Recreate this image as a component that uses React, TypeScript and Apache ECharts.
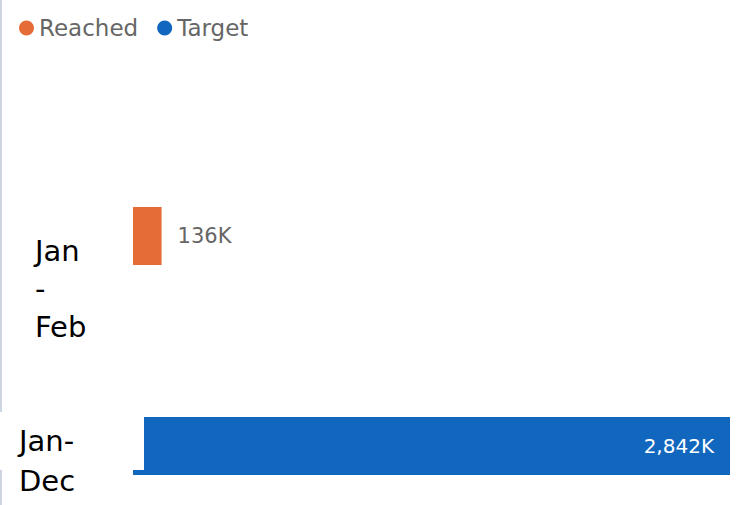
import React, { useEffect, useRef } from "react";
import * as echarts from "echarts";

const categories = ["Jan - Feb", "Jan-Dec"];
const seriesNames = ["Reached", "Target"];
const reachedValues = [136, null];
const targetValues = [null, 2842];
const axisMax = 2842;

const ORANGE = "#E66C37";
const BLUE = "#1167BE";
const FONT = "DejaVu Sans";

function wrapLabel(v: string): string[] {
  const parts = v.split(" ").filter((s) => s.length > 0);
  if (parts.length > 1) return parts;
  const i = v.indexOf("-");
  if (i >= 0 && i < v.length - 1) return [v.slice(0, i + 1), v.slice(i + 1)];
  return [v];
}

function fmtK(v: number): string {
  return v.toLocaleString("en-US") + "K";
}

export default function App() {
  const ref = useRef<HTMLDivElement>(null);
  useEffect(() => {
    if (!ref.current) return;
    const chart = echarts.init(ref.current, null, { renderer: "svg" });
    chart.setOption({
      animation: false,
      backgroundColor: "#fff",
      legend: {
        left: 14,
        top: 10,
        icon: "circle",
        itemWidth: 15,
        itemHeight: 15,
        itemGap: 19,
        textStyle: { fontFamily: FONT, fontSize: 23, color: "#666", lineHeight: 26 },
        data: seriesNames,
      },
      grid: {
        left: 133,
        right: 13,
        top: 131,
        bottom: -46,
        containLabel: false,
        outerBoundsMode: "none",
      },
      xAxis: {
        type: "value",
        min: 0,
        max: axisMax,
        show: false,
      },
      yAxis: {
        type: "category",
        inverse: true,
        z: 10,
        axisLine: { show: false },
        axisTick: { show: false },
        data: [
          {
            value: categories[0],
            textStyle: { align: "left", verticalAlign: "middle", padding: [105, 0, 0, 0] },
          },
          {
            value: categories[1],
            textStyle: { align: "left", verticalAlign: "middle", padding: [12, 0, 0, 0] },
          },
        ],
        axisLabel: {
          align: "left",
          margin: 133,
          fontFamily: FONT,
          fontSize: 29,
          color: "#000",
          formatter: (v: string, idx: number) => {
            const lines = wrapLabel(v);
            if (idx === 0) return lines.map((l) => `{a|${l}}`).join("\n");
            return lines.map((l, i) => (i === 0 ? `{box|${l}}` : `{b|${l}}`)).join("\n");
          },
          rich: {
            a: { fontFamily: FONT, fontSize: 29, color: "#000", lineHeight: 38, padding: [0, 0, 0, 35] },
            box: {
              fontFamily: FONT,
              fontSize: 29,
              color: "#000",
              backgroundColor: "#fff",
              width: 125,
              height: 58,
              lineHeight: 58,
              padding: [0, 0, 0, 19],
            },
            b: { fontFamily: FONT, fontSize: 29, color: "#000", lineHeight: 22, padding: [0, 0, 0, 19] },
          },
        },
      },
      series: [
        {
          name: seriesNames[0],
          type: "bar",
          data: reachedValues,
          barWidth: 58,
          barGap: "-100%",
          itemStyle: { color: ORANGE },
          label: {
            show: true,
            position: "right",
            distance: 16,
            fontFamily: FONT,
            fontSize: 21,
            color: "#666",
            padding: [6, 0, 0, 0],
            formatter: (p: any) => fmtK(p.value),
          },
        },
        {
          name: seriesNames[1],
          type: "bar",
          data: targetValues,
          barWidth: 58,
          barGap: "-100%",
          itemStyle: { color: BLUE },
          label: {
            show: true,
            position: "insideRight",
            distance: 16,
            fontFamily: FONT,
            fontSize: 20,
            color: "#fff",
            padding: [6, 0, 0, 0],
            formatter: (p: any) => fmtK(p.value),
          },
        },
      ],
      graphic: [
        {
          type: "line",
          z: -10,
          shape: { x1: 1, y1: 0, x2: 1, y2: 505 },
          style: { stroke: "#cdd6e0", lineWidth: 2 },
        },
      ],
    });
    return () => chart.dispose();
  }, []);
  return (
    <div
      ref={ref}
      style={{ position: "absolute", left: 0, top: 0, width: 743, height: 505, background: "#fff" }}
    />
  );
}
